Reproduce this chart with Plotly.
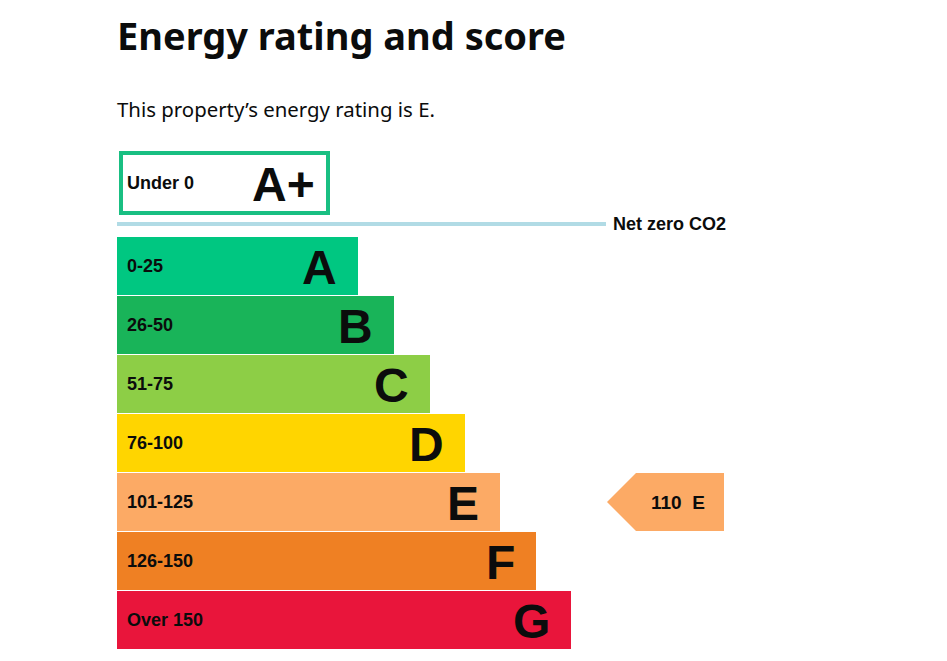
import plotly.graph_objects as go

# ---- data ----
bands = ["A", "B", "C", "D", "E", "F", "G"]
ranges = ["0-25", "26-50", "51-75", "76-100", "101-125", "126-150", "Over 150"]
bar_lengths = [241, 277, 313, 348, 383, 419, 454]
colors = ["#00c781", "#19b459", "#8dce46", "#ffd500", "#fcaa65", "#ef8023", "#e9153b"]
top_band = "A+"
top_range = "Under 0"
score = 110
rating = "E"
title = "Energy rating and score"
subtitle = "This property\u2019s energy rating is E."

W, H = 947, 661
left = 117
band_top0 = 237
band_h = 59
bar_h = 58
centers = [band_top0 + band_h * i + bar_h / 2 for i in range(len(bands))]

fig = go.Figure()
fig.add_trace(go.Bar(
    y=centers, x=bar_lengths, base=left, orientation="h", width=bar_h,
    marker=dict(color=colors, line=dict(width=0)), hoverinfo="skip",
    showlegend=False,
))

lab_font = dict(family="Liberation Sans, Arial, sans-serif", size=18, color="#0b0c0c")
big_font = dict(family="Liberation Sans, Arial, sans-serif", size=48, color="#0b0c0c")

ann = []
for c, b, r, L in zip(centers, bands, ranges, bar_lengths):
    ann.append(dict(x=125, y=c, text=f"<b>{r}</b>", xanchor="left", yanchor="middle",
                    showarrow=False, font=lab_font))
    ann.append(dict(x=left + L - 19, y=c + 1, text=f"<b>{b}</b>", xanchor="right",
                    yanchor="middle", showarrow=False, font=big_font))

# A+ box
fig.add_shape(type="rect", x0=121, x1=328, y0=153, y1=213,
              line=dict(color="#19bf82", width=4), fillcolor="white", layer="below")
ann.append(dict(x=125, y=183, text=f"<b>{top_range}</b>", xanchor="left", yanchor="middle",
                showarrow=False, font=lab_font))
ann.append(dict(x=317, y=184, text=f"<b>{top_band}</b>", xanchor="right", yanchor="middle",
                showarrow=False, font=big_font))

# net zero line
fig.add_shape(type="line", x0=117, x1=606, y0=224, y1=224,
              line=dict(color="#b1dbe5", width=4))
ann.append(dict(x=611, y=224, text="<b>Net zero CO2</b>", xanchor="left", yanchor="middle",
                showarrow=False, font=lab_font))

# score arrow
idx = bands.index(rating)
cy = centers[idx]
y0, y1 = cy - bar_h / 2, cy + bar_h / 2
tip, body, right = 607, 636, 724
fig.add_shape(type="path",
              path=f"M {tip} {cy} L {body} {y0} L {right} {y0} L {right} {y1} L {body} {y1} Z",
              fillcolor=colors[idx], line=dict(width=0))
ann.append(dict(x=678, y=cy, text=f"<b>{score}&nbsp;&nbsp;{rating}</b>", xanchor="center",
                yanchor="middle", showarrow=False,
                font=dict(family="Liberation Sans, Arial, sans-serif", size=19, color="#0b0c0c")))

# titles
ann.append(dict(x=115, y=35, text=f"<b>{title}</b>", xanchor="left", yanchor="middle",
                showarrow=False, font=dict(family="Noto Sans, sans-serif", size=38, color="#0b0c0c")))
ann.append(dict(x=115, y=109, text=subtitle, xanchor="left", yanchor="middle",
                showarrow=False, font=dict(family="Noto Sans, sans-serif", size=20.4, color="#0b0c0c")))

fig.update_layout(
    width=W, height=H, margin=dict(l=0, r=0, t=0, b=0),
    paper_bgcolor="white", plot_bgcolor="white",
    xaxis=dict(range=[0, W], visible=False, fixedrange=True),
    yaxis=dict(range=[H, 0], visible=False, fixedrange=True),
    annotations=ann, bargap=0, hovermode=False,
)
fig.write_html("out.html", config=dict(displayModeBar=False))
